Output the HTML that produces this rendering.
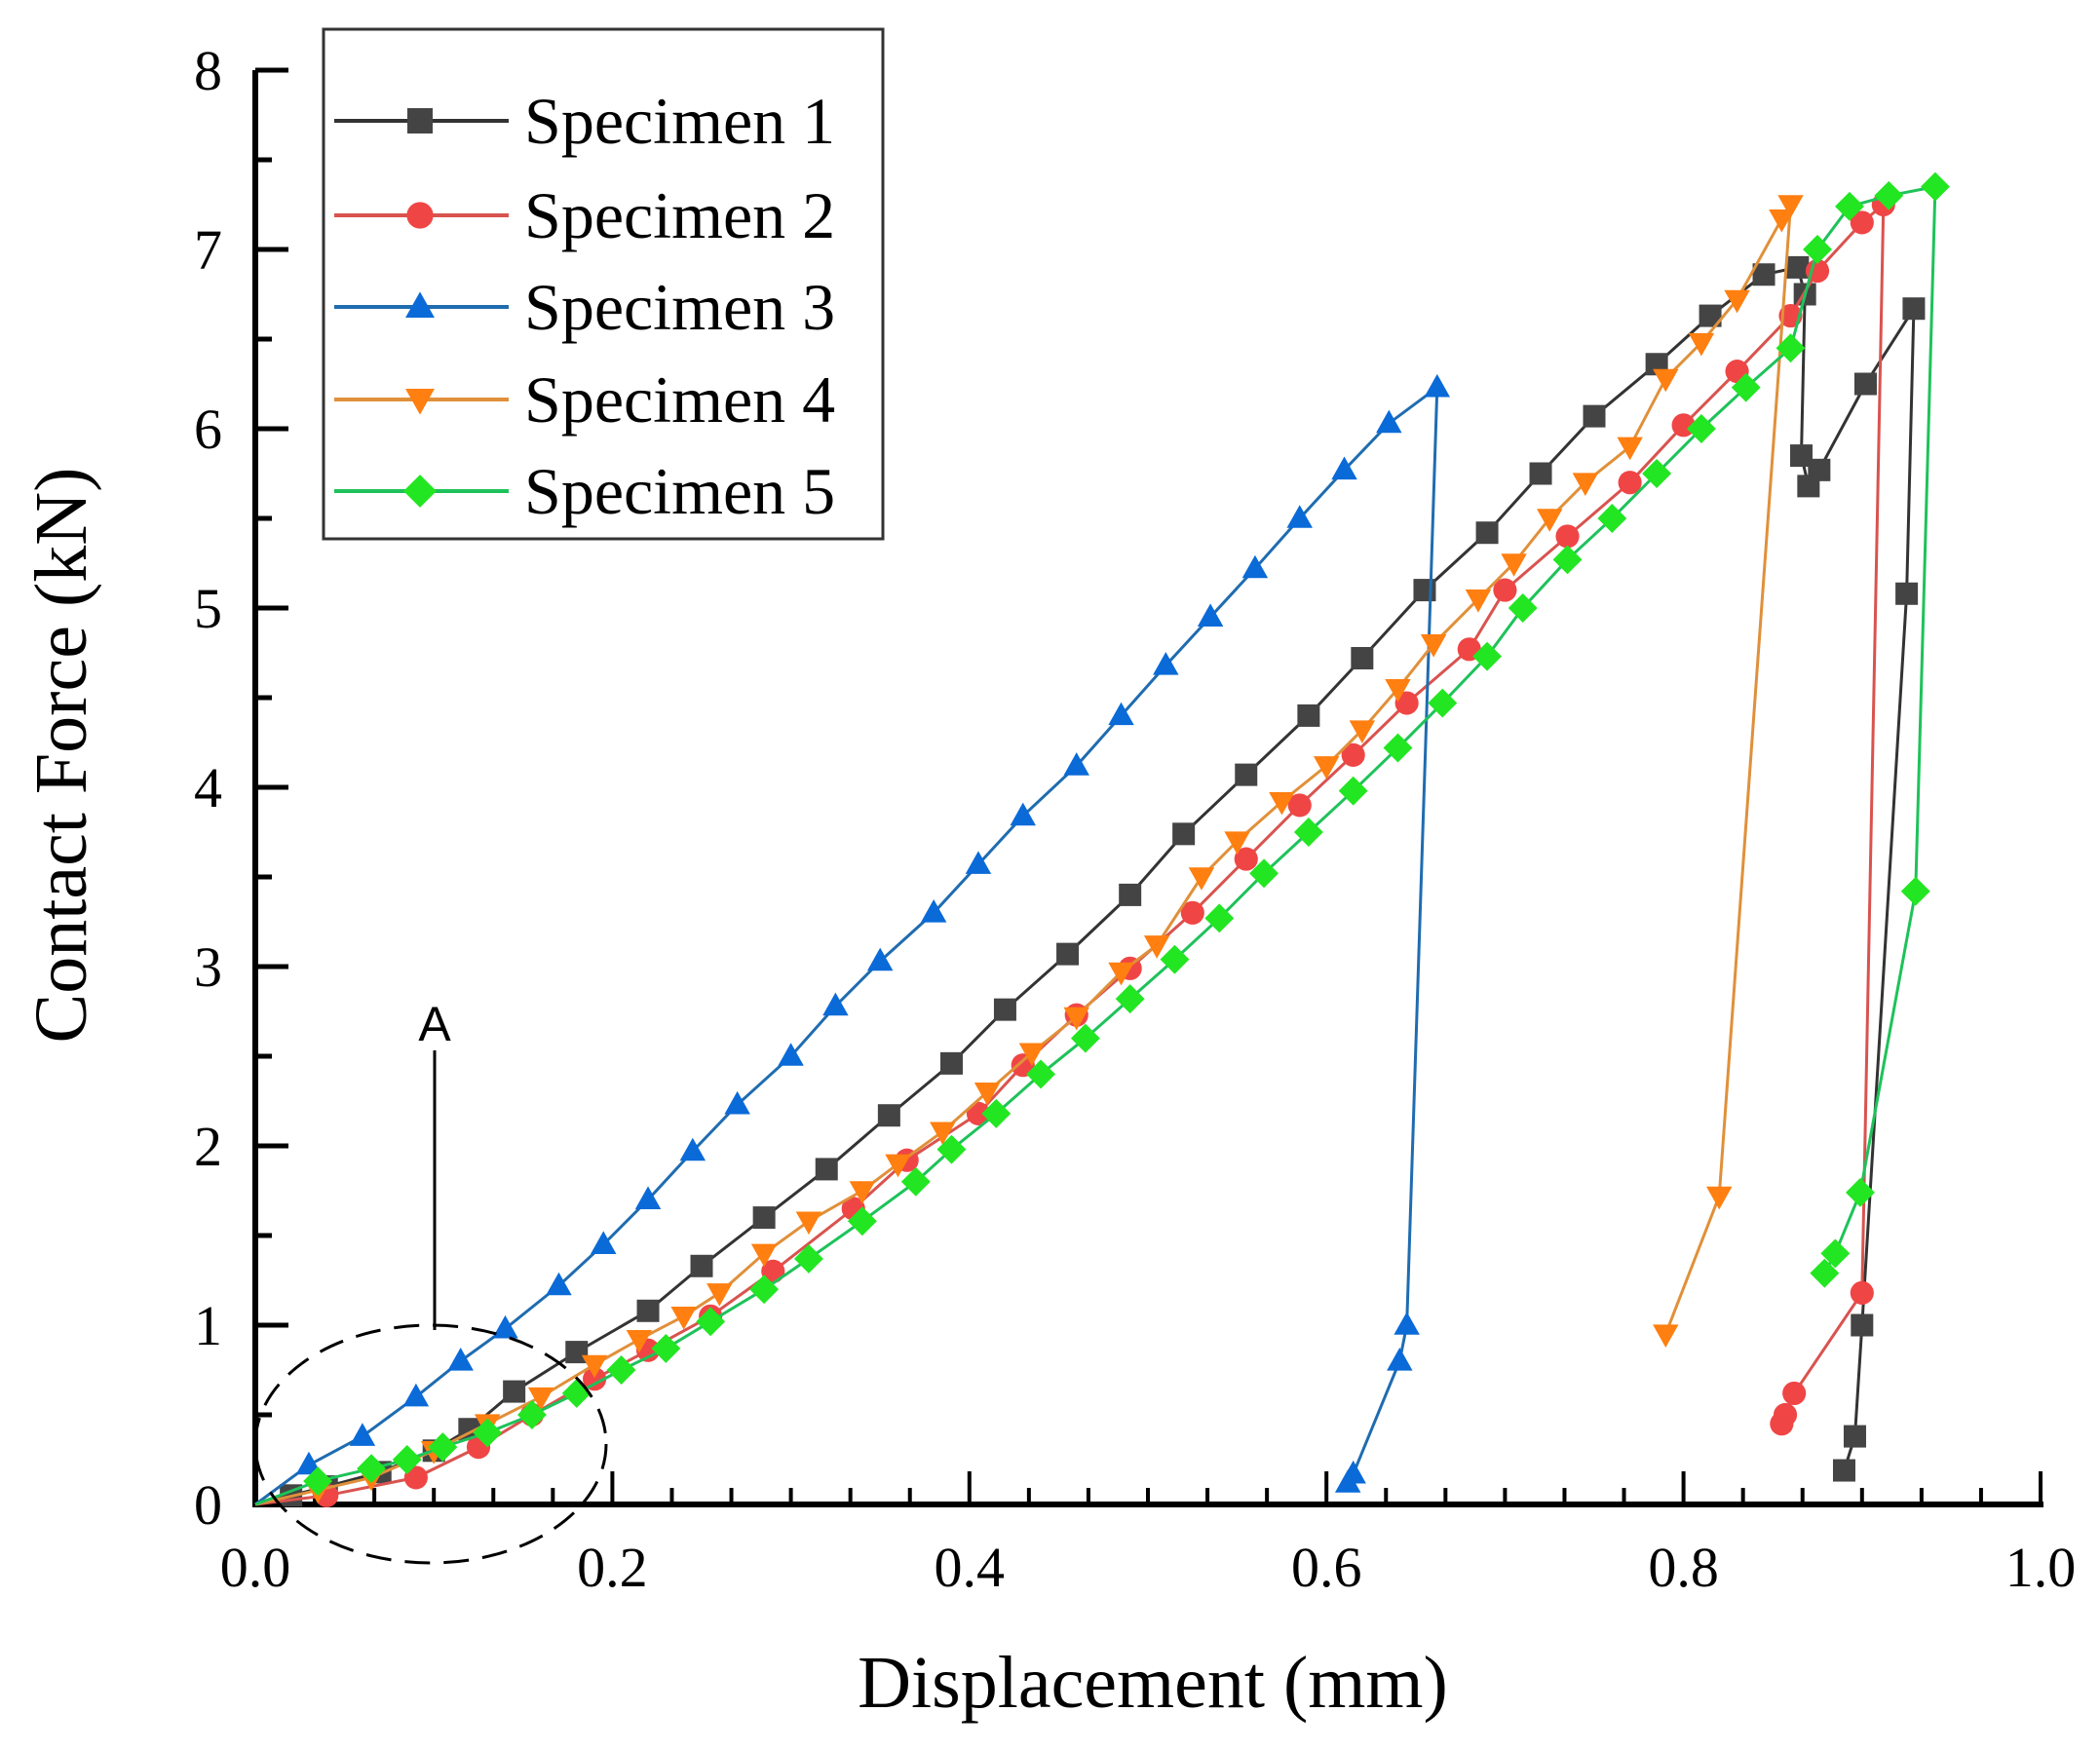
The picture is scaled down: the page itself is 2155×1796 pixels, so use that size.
<!DOCTYPE html>
<html><head><meta charset="utf-8"><style>
html,body{margin:0;padding:0;background:#fff;}
svg{display:block;}
text{font-family:"Liberation Serif",serif;fill:#000;}
</style></head><body>
<svg id="chart" width="2155" height="1796" viewBox="0 0 2155 1796" xmlns="http://www.w3.org/2000/svg">
<g id="grid-layer"></g>
<g id="series-layer"></g>
<g id="annot">
  <ellipse cx="442" cy="1482" rx="180" ry="122" fill="none" stroke="#000" stroke-width="3" stroke-dasharray="26,14"/>
  <line x1="446" y1="1078" x2="446" y2="1365" stroke="#000" stroke-width="3"/>
  <text x="446" y="1068" font-size="50" text-anchor="middle" style="font-family:'Liberation Sans',sans-serif">A</text>
</g>
<g id="legend">
  <rect x="332" y="30" width="574" height="523" fill="#fff" stroke="#333" stroke-width="3"/>
</g>
<text x="1183" y="1752" font-size="76" text-anchor="middle">Displacement (mm)</text>
<text transform="translate(88,775) rotate(-90)" font-size="76" text-anchor="middle">Contact Force (kN)</text>
</svg>
<script>
const xTicks = [0.0, 0.2, 0.4, 0.6, 0.8, 1.0];
const xTickLabels = ["0.0", "0.2", "0.4", "0.6", "0.8", "1.0"];
const yTicks = [0, 1, 2, 3, 4, 5, 6, 7, 8];
const yTickLabels = ["0", "1", "2", "3", "4", "5", "6", "7", "8"];
const seriesNames = ["Specimen 1", "Specimen 2", "Specimen 3", "Specimen 4", "Specimen 5"];
const s1x = [0,0.02,0.04,0.07,0.1,0.12,0.145,0.18,0.22,0.25,0.285,0.32,0.355,0.39,0.42,0.455,0.49,0.52,0.555,0.59,0.62,0.655,0.69,0.72,0.75,0.785,0.815,0.845,0.864,0.868,0.866,0.87,0.876,0.902,0.929,0.925,0.9,0.896,0.89];
const s1y = [0,0.05,0.1,0.18,0.3,0.42,0.63,0.85,1.08,1.33,1.6,1.87,2.17,2.46,2.76,3.07,3.4,3.74,4.07,4.4,4.72,5.1,5.42,5.75,6.07,6.36,6.63,6.86,6.9,6.75,5.85,5.68,5.77,6.25,6.67,5.08,1.0,0.38,0.19];
const s2x = [0,0.04,0.09,0.125,0.155,0.19,0.22,0.255,0.29,0.335,0.365,0.405,0.43,0.46,0.49,0.525,0.555,0.585,0.615,0.645,0.68,0.7,0.735,0.77,0.8,0.83,0.86,0.875,0.9,0.912,0.9,0.862,0.857,0.855];
const s2y = [0,0.05,0.15,0.32,0.5,0.7,0.86,1.05,1.3,1.65,1.92,2.18,2.45,2.73,2.99,3.3,3.6,3.9,4.18,4.47,4.77,5.1,5.4,5.7,6.02,6.32,6.63,6.88,7.15,7.25,1.18,0.62,0.5,0.45];
const s3x = [0,0.03,0.06,0.09,0.115,0.14,0.17,0.195,0.22,0.245,0.27,0.3,0.325,0.35,0.38,0.405,0.43,0.46,0.485,0.51,0.535,0.56,0.585,0.61,0.635,0.662,0.645,0.641,0.615,0.612];
const s3y = [0,0.22,0.38,0.6,0.8,0.98,1.22,1.45,1.7,1.97,2.23,2.5,2.78,3.03,3.3,3.57,3.84,4.12,4.4,4.68,4.95,5.22,5.5,5.77,6.03,6.23,1.0,0.8,0.17,0.12];
const s4x = [0,0.035,0.065,0.1,0.13,0.16,0.19,0.215,0.24,0.26,0.285,0.31,0.34,0.36,0.385,0.41,0.435,0.46,0.485,0.505,0.53,0.55,0.575,0.6,0.62,0.64,0.66,0.685,0.705,0.725,0.745,0.77,0.79,0.81,0.83,0.855,0.86,0.82,0.79];
const s4y = [0,0.08,0.15,0.3,0.45,0.6,0.78,0.92,1.05,1.18,1.4,1.58,1.75,1.9,2.08,2.3,2.52,2.72,2.97,3.12,3.5,3.7,3.92,4.12,4.32,4.55,4.8,5.05,5.25,5.5,5.7,5.9,6.28,6.48,6.72,7.17,7.25,1.72,0.95];
const s5x = [0,0.035,0.065,0.085,0.105,0.13,0.155,0.18,0.205,0.23,0.255,0.285,0.31,0.34,0.37,0.39,0.415,0.44,0.465,0.49,0.515,0.54,0.565,0.59,0.615,0.64,0.665,0.69,0.71,0.735,0.76,0.785,0.81,0.835,0.86,0.875,0.893,0.915,0.941,0.93,0.899,0.885,0.879];
const s5y = [0,0.13,0.2,0.25,0.32,0.4,0.5,0.62,0.75,0.87,1.02,1.2,1.37,1.58,1.8,1.98,2.18,2.4,2.6,2.82,3.04,3.27,3.52,3.75,3.98,4.22,4.47,4.73,5.0,5.27,5.5,5.75,6.0,6.23,6.45,7.0,7.24,7.3,7.35,3.42,1.74,1.4,1.29];
const seriesX = [s1x, s2x, s3x, s4x, s5x];
const seriesY = [s1y, s2y, s3y, s4y, s5y];

const NS = "http://www.w3.org/2000/svg";
const X0 = 262, X1 = 2094, Y0 = 1544, Y8 = 72;
function xs(v){ return X0 + (v - 0) / (1 - 0) * (X1 - X0); }
function ys(v){ return Y0 - (v - 0) / (8 - 0) * (Y0 - Y8); }
function mk(tag, attrs, parent){ const e = document.createElementNS(NS, tag); for (const k in attrs) e.setAttribute(k, attrs[k]); parent.appendChild(e); return e; }

const g = document.getElementById("grid-layer");
const styles = [
  {line:"#333333", fill:"#444444", shape:"square"},
  {line:"#d9534f", fill:"#f04545", shape:"circle"},
  {line:"#1f6cb0", fill:"#0a6ad8", shape:"tri-up"},
  {line:"#e0903a", fill:"#ff7f10", shape:"tri-down"},
  {line:"#1ec25a", fill:"#22e622", shape:"diamond"}
];
function marker(parent, cx, cy, st, r){
  let el;
  if (st.shape === "square") el = mk("rect", {x:cx-r, y:cy-r, width:2*r, height:2*r, fill:st.fill}, parent);
  else if (st.shape === "circle") el = mk("circle", {cx:cx, cy:cy, r:r*1.05, fill:st.fill}, parent);
  else if (st.shape === "tri-up") el = mk("polygon", {points:`${cx},${cy-r*1.2} ${cx-r*1.15},${cy+r*0.85} ${cx+r*1.15},${cy+r*0.85}`, fill:st.fill}, parent);
  else if (st.shape === "tri-down") el = mk("polygon", {points:`${cx},${cy+r*1.2} ${cx-r*1.15},${cy-r*0.85} ${cx+r*1.15},${cy-r*0.85}`, fill:st.fill}, parent);
  else el = mk("polygon", {points:`${cx},${cy-r*1.3} ${cx+r*1.3},${cy} ${cx},${cy+r*1.3} ${cx-r*1.3},${cy}`, fill:st.fill}, parent);
  return el;
}

const xa = mk("line", {x1:X0, y1:Y0, x2:X1+3, y2:Y0, stroke:"#000", "stroke-width":6}, g);


const ya = mk("line", {x1:X0, y1:Y0+3, x2:X0, y2:Y8, stroke:"#000", "stroke-width":6}, g);


for (let i = 0; i <= 30; i++) {
  const v = i / 30; const major = i % 6 === 0;
  const t = mk("line", {x1:xs(v), y1:Y0, x2:xs(v), y2:Y0 - (major ? 34 : 17), stroke:"#000", "stroke-width":4}, g);
  
  
}
for (let i = 0; i <= 16; i++) {
  const v = i / 2; const major = i % 2 === 0;
  const t = mk("line", {x1:X0, y1:ys(v), x2:X0 + (major ? 34 : 17), y2:ys(v), stroke:"#000", "stroke-width":5}, g);
  
  
}
xTicks.forEach((v, i) => {
  const t = mk("text", {x:xs(v), y:1628, "font-size":58, "text-anchor":"middle"}, g);
  t.textContent = xTickLabels[i];
  
  
});
yTicks.forEach((v, i) => {
  const t = mk("text", {x:228, y:ys(v) + 20, "font-size":58, "text-anchor":"end"}, g);
  t.textContent = yTickLabels[i];
  
  
});

const sl = document.getElementById("series-layer");
seriesX.forEach((xsArr, si) => {
  const st = styles[si];
  const grp = mk("g", {}, sl);
  
  
  const pts = xsArr.map((x, j) => xs(x) + "," + ys(seriesY[si][j])).join(" ");
  const pl = mk("polyline", {points:pts, fill:"none", stroke:st.line, "stroke-width":3}, grp);
  
  
  xsArr.forEach((x, j) => {
    if (j === 0) return;
    const m = marker(grp, xs(x), ys(seriesY[si][j]), st, 11.5);
    
    
  });
});

const lg = document.getElementById("legend");
const rowY = [124, 221, 315, 410, 504];
seriesNames.forEach((name, i) => {
  const st = styles[i];
  const row = mk("g", {}, lg);
  
  
  const l = mk("line", {x1:343, y1:rowY[i], x2:522, y2:rowY[i], stroke:st.line, "stroke-width":4}, row);
  
  
  const m = marker(row, 431, rowY[i], st, 13);
  
  
  const t = mk("text", {x:538, y:rowY[i] + 23, "font-size":68}, row);
  t.textContent = name;
  
  
});
</script>
</body></html>
